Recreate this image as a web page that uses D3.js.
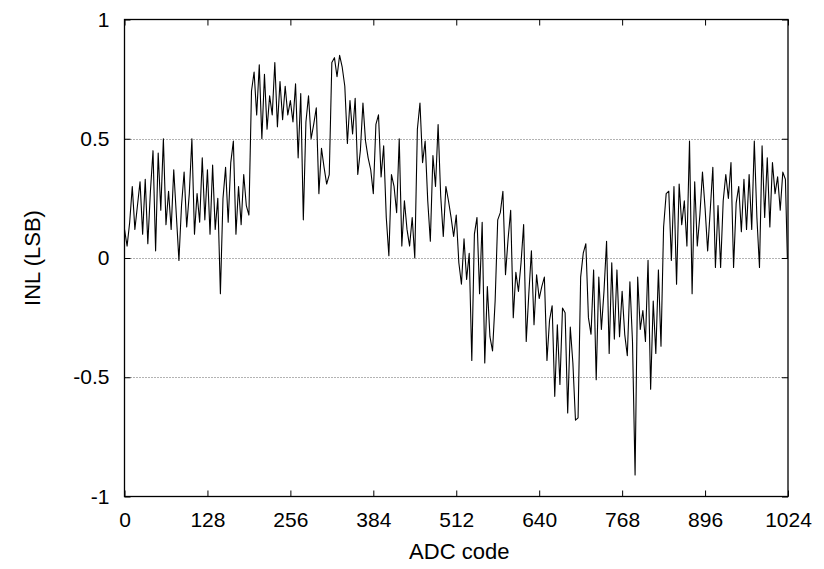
<!DOCTYPE html>
<html lang="en">

<head>
    <meta charset="UTF-8">
    <title>INL</title>
    <style>
        body {
            margin: 0;
            background: #fff;
        }

        text {
            font-family: "Liberation Sans", Arial, sans-serif;
        }
    </style>
</head>

<body>
    <div id="target"></div>

    <script src="https://d3js.org/d3.v7.min.js"></script>
    <script>
        const codeStep = 4;
        const lastCode = 1023;
        const inl = [
            0.12, 0.05, 0.15, 0.3, 0.12, 0.22, 0.32, 0.1, 0.33, 0.06, 0.28, 0.45, 0.03, 0.44, 0.2, 0.5,
            0.14, 0.28, 0.12, 0.37, 0.18, -0.01, 0.22, 0.36, 0.13, 0.27, 0.5, 0.1, 0.27, 0.15, 0.42, 0.16,
            0.37, 0.1, 0.39, 0.12, 0.25, -0.15, 0.25, 0.38, 0.15, 0.4, 0.49, 0.1, 0.3, 0.14, 0.35, 0.22,
            0.18, 0.7, 0.78, 0.6, 0.81, 0.5, 0.77, 0.54, 0.68, 0.6, 0.82, 0.55, 0.74, 0.58, 0.72, 0.6,
            0.66, 0.57, 0.73, 0.42, 0.69, 0.16, 0.57, 0.68, 0.5, 0.56, 0.63, 0.27, 0.46, 0.38, 0.31, 0.35,
            0.82, 0.84, 0.76, 0.85, 0.8, 0.72, 0.48, 0.66, 0.52, 0.67, 0.35, 0.45, 0.65, 0.49, 0.42, 0.37,
            0.27, 0.56, 0.6, 0.34, 0.47, 0.17, 0.01, 0.35, 0.3, 0.19, 0.5, 0.05, 0.24, 0.12, 0.05, 0.17,
            0.0, 0.54, 0.65, 0.4, 0.49, 0.24, 0.07, 0.43, 0.3, 0.56, 0.26, 0.09, 0.3, 0.24, 0.17, 0.09,
            0.18, -0.02, -0.11, 0.08, -0.09, 0.02, -0.43, 0.1, 0.17, -0.15, 0.15, -0.44, -0.12, -0.33, -0.39, -0.18,
            0.16, 0.19, 0.28, -0.07, 0.08, 0.2, -0.25, -0.06, -0.14, -0.02, 0.14, -0.35, -0.15, 0.03, -0.28, -0.07,
            -0.17, -0.12, -0.08, -0.43, -0.26, -0.2, -0.58, -0.28, -0.53, -0.21, -0.23, -0.65, -0.29, -0.44, -0.68, -0.67,
            -0.08, 0.02, 0.06, -0.25, -0.32, -0.05, -0.51, -0.08, -0.3, -0.14, 0.07, -0.4, -0.02, -0.34, -0.05, -0.33,
            -0.14, -0.32, -0.41, -0.1, -0.35, -0.91, -0.08, -0.3, -0.22, -0.35, -0.01, -0.55, -0.18, -0.4, -0.05, -0.37,
            0.13, 0.27, 0.28, -0.01, 0.3, -0.11, 0.31, 0.14, 0.24, 0.05, 0.49, -0.15, 0.32, 0.05, 0.18, 0.36,
            0.21, 0.03, 0.2, 0.38, -0.04, 0.22, -0.04, 0.24, 0.35, 0.25, 0.4, -0.04, 0.23, 0.3, 0.11, 0.33,
            0.12, 0.35, 0.12, 0.49, 0.17, -0.04, 0.47, 0.17, 0.42, 0.13, 0.4, 0.27, 0.34, 0.2, 0.36, 0.33,
            0.0
        ];

        const xTicks = [0, 128, 256, 384, 512, 640, 768, 896, 1024];
        const yTicks = [-1, -0.5, 0, 0.5, 1];
        const gridValues = [-0.5, 0, 0.5];
        const xLabel = "ADC code";
        const yLabel = "INL (LSB)";

        const data = inl.map((v, i) => ({ code: Math.min(i * codeStep, lastCode), value: v }));

        const width = 824;
        const height = 569;
        const plotL = 124.5, plotR = 788, plotT = 19.5, plotB = 496.5;

        const x = d3.scaleLinear().domain([0, 1024]).range([plotL, plotR]);
        const y = d3.scaleLinear().domain([-1, 1]).range([plotB, plotT]);

        const svg = d3.select("#target")
            .append("svg")
            .attr("width", width)
            .attr("height", height);

        // dotted grid
        svg.append("g")
            .selectAll("line")
            .data(gridValues)
            .join("line")
            .attr("x1", plotL)
            .attr("x2", plotR)
            .attr("y1", d => Math.round(y(d)) + 0.5)
            .attr("y2", d => Math.round(y(d)) + 0.5)
            .attr("stroke", "#666")
            .attr("stroke-width", 1)
            .attr("stroke-dasharray", "1,2");

        // plain hyphen for negatives, like the original
        const fmt = d => String(d);

        const axisB = svg.append("g")
            .attr("transform", `translate(0,${plotB})`)
            .call(d3.axisBottom(x).tickValues(xTicks).tickSizeInner(-6).tickSizeOuter(0).tickPadding(16).tickFormat(fmt));
        svg.append("g")
            .attr("transform", `translate(0,${plotT})`)
            .call(d3.axisTop(x).tickValues(xTicks).tickSizeInner(-6).tickSizeOuter(0).tickFormat(""));
        const axisL = svg.append("g")
            .attr("transform", `translate(${plotL},0)`)
            .call(d3.axisLeft(y).tickValues(yTicks).tickSizeInner(-6).tickSizeOuter(0).tickPadding(15).tickFormat(fmt));
        svg.append("g")
            .attr("transform", `translate(${plotR},0)`)
            .call(d3.axisRight(y).tickValues(yTicks).tickSizeInner(-6).tickSizeOuter(0).tickFormat(""));

        svg.selectAll(".domain").remove();
        svg.selectAll(".tick line").attr("stroke", "#000").attr("stroke-width", 1);
        svg.selectAll(".tick text")
            .attr("fill", "#000")
            .style("font-size", "21px");
        axisB.attr("font-family", null);
        axisL.attr("font-family", null);

        // data line
        const line = d3.line()
            .x(d => x(d.code))
            .y(d => y(d.value));

        svg.append("path")
            .datum(data)
            .attr("d", line)
            .attr("fill", "none")
            .attr("stroke", "#000")
            .attr("stroke-width", 1.1)
            .attr("stroke-linejoin", "round");

        // frame
        svg.append("rect")
            .attr("x", plotL)
            .attr("y", plotT)
            .attr("width", plotR - plotL)
            .attr("height", plotB - plotT)
            .attr("fill", "none")
            .attr("stroke", "#000")
            .attr("stroke-width", 1.3);

        svg.append("text")
            .attr("x", (plotL + plotR) / 2 + 3)
            .attr("y", 559)
            .attr("text-anchor", "middle")
            .style("font-size", "22px")
            .text(xLabel);

        svg.append("text")
            .attr("transform", `translate(40,${y(0)}) rotate(-90)`)
            .attr("text-anchor", "middle")
            .style("font-size", "22px")
            .text(yLabel);
    </script>
</body>

</html>
